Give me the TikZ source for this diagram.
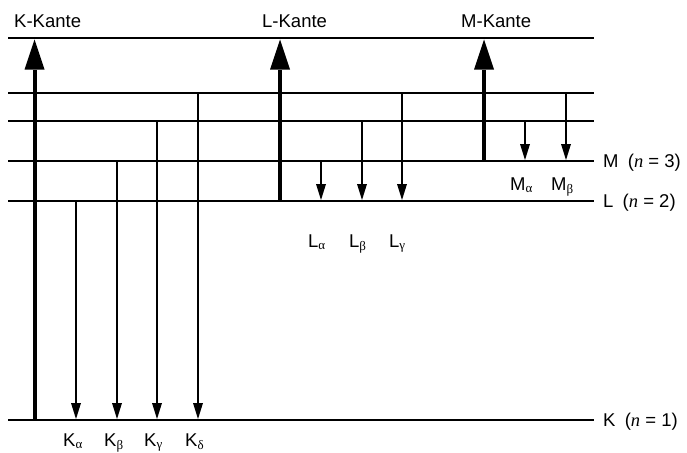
\documentclass[tikz,border=0pt]{standalone}
\usepackage{fontspec}
\setmainfont{Liberation Sans}
\newfontfamily\serifgr{Liberation Serif}
\usetikzlibrary{arrows.meta}
\newcommand{\nit}{{\serifgr\itshape n}}
\newcommand{\sgr}[1]{\textsubscript{\serifgr #1}}
\begin{document}
\begin{tikzpicture}[x=1pt,y=-1pt,
  level/.style={line width=1.8pt},
  thickarrow/.style={line width=4pt,-{Triangle[length=30pt,width=20pt,line width=0pt]}},
  thinarrow/.style={line width=1.6pt,-{Triangle[length=16pt,width=10pt,line width=0pt]}},
  lbl/.style={font=\fontsize{18.5}{22}\selectfont, inner sep=0pt, anchor=base west},
]
\useasboundingbox (0,0) rectangle (687,452);
% level lines
\foreach \nm/\y in {T/38, A/93, B/121, M/161, L/201, K/420}{
  \coordinate (\nm l) at (8,\y);
  \coordinate (\nm r) at (594,\y);
  \draw[level] (\nm l) -- (\nm r);
}
% edge arrows
\coordinate (kes) at (34.5,420); \coordinate (kee) at (34.5,39.5);
\coordinate (les) at (280,201);  \coordinate (lee) at (280,39.5);
\coordinate (mes) at (484,161);  \coordinate (mee) at (484,39.5);
\draw[thickarrow] (kes) -- (kee);
\draw[thickarrow] (les) -- (lee);
\draw[thickarrow] (mes) -- (mee);
% K lines
\foreach \nm/\x/\y in {ka/76/201, kb/117/161, kc/157/121, kd/198/93}{
  \coordinate (\nm s) at (\x,\y); \coordinate (\nm e) at (\x,419);
  \draw[thinarrow] (\nm s) -- (\nm e);
}
% L lines
\foreach \nm/\x/\y in {la/321/161, lb/362/121, lc/402/93}{
  \coordinate (\nm s) at (\x,\y); \coordinate (\nm e) at (\x,200);
  \draw[thinarrow] (\nm s) -- (\nm e);
}
% M lines
\foreach \nm/\x/\y in {ma/525/121, mb/566/93}{
  \coordinate (\nm s) at (\x,\y); \coordinate (\nm e) at (\x,160);
  \draw[thinarrow] (\nm s) -- (\nm e);
}
% labels
\node[lbl] (tK) at (14,28) {K-Kante};
\node[lbl] (tL) at (262,28) {L-Kante};
\node[lbl] (tM) at (461,28) {M-Kante};
\node[lbl] (rM) at (603,167) {M\hspace{0.5em}(\nit\ = 3)};
\node[lbl] (rL) at (603,207.5) {L\hspace{0.5em}(\nit\ = 2)};
\node[lbl] (rK) at (603,426.5) {K\hspace{0.5em}(\nit\ = 1)};
\node[lbl] (sKa) at (63,446) {K\sgr{α}};
\node[lbl] (sKb) at (104,446) {K\sgr{β}};
\node[lbl] (sKc) at (144,446) {K\sgr{γ}};
\node[lbl] (sKd) at (185,446) {K\sgr{δ}};
\node[lbl] (sLa) at (308,247) {L\sgr{α}};
\node[lbl] (sLb) at (349,247) {L\sgr{β}};
\node[lbl] (sLc) at (389,247) {L\sgr{γ}};
\node[lbl] (sMa) at (510,190) {M\sgr{α}};
\node[lbl] (sMb) at (551,190) {M\sgr{β}};
\end{tikzpicture}
\end{document}
